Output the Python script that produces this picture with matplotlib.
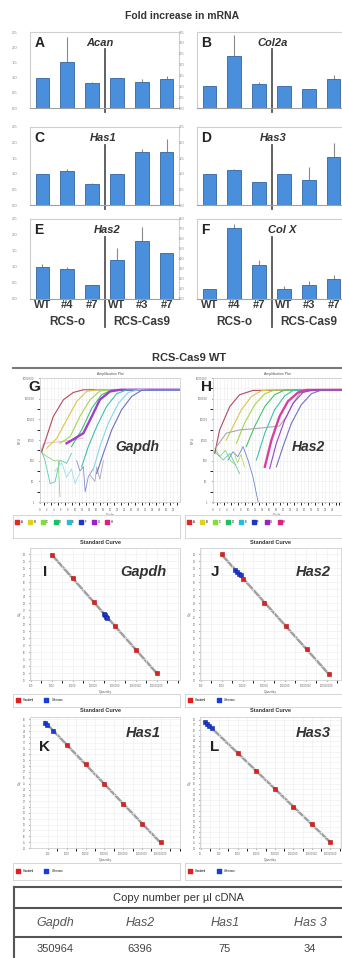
import matplotlib
matplotlib.use('Agg')
import matplotlib.pyplot as plt
import numpy as np

plt.rcParams['font.family'] = ['Liberation Sans', 'DejaVu Sans']

# ---- fold increase bar panels (A-F) ----
bar_labels = ['WT', '#4', '#7', 'WT', '#3', '#7']
group_labels = ['RCS-o', 'RCS-Cas9']

acan = [1.0, 1.52, 0.83, 1.0, 0.84, 0.95]
acan_err = [0.0, 0.83, 0.03, 0.0, 0.11, 0.09]
col2a = [1.0, 2.4, 1.1, 1.0, 0.88, 1.35]
col2a_err = [0.0, 0.95, 0.12, 0.0, 0.0, 0.15]
has1 = [1.0, 1.1, 0.67, 1.0, 1.7, 1.71]
has1_err = [0.0, 0.04, 0.05, 0.0, 0.09, 0.39]
has3 = [1.0, 1.13, 0.75, 1.0, 0.8, 1.53]
has3_err = [0.0, 0.02, 0.0, 0.0, 0.43, 0.47]
has2 = [1.0, 0.93, 0.45, 1.23, 1.8, 1.44]
has2_err = [0.1, 0.07, 0.0, 0.37, 0.45, 0.0]
colx = [1.0, 7.15, 3.37, 1.0, 1.4, 2.0]
colx_err = [0.0, 0.4, 0.5, 0.3, 0.45, 0.45]

# ---- amplification plots (cycle, log10 RFU) ----
amp_g_cyc = [
    [0.5, 1.9, 3.8, 6.7, 9.5, 12.4, 40],
    [1.9, 4.8, 7.6, 10.5, 13.3, 16.2, 40],
    [5.7, 8.6, 11.4, 14.3, 17.1, 20.0, 40],
    [9.0, 11.9, 14.8, 17.6, 20.5, 40],
    [7.6, 10.0, 12.4, 14.8, 17.1, 20.0, 22.9, 40],
    [11.9, 13.8, 16.2, 19.0, 21.9, 24.8, 40],
    [15.2, 17.1, 19.5, 22.4, 25.2, 28.1, 40],
    [16.2, 18.1, 20.5, 23.3, 26.2, 29.0, 31.0, 40],
]
amp_g_log = [
    [2.43, 3.16, 4.14, 4.95, 5.30, 5.43, 5.43],
    [2.60, 3.08, 3.97, 4.87, 5.35, 5.43, 5.43],
    [2.84, 3.16, 4.14, 4.95, 5.37, 5.43, 5.43],
    [2.68, 3.49, 4.54, 5.19, 5.42, 5.43],
    [2.84, 3.08, 3.33, 4.14, 4.95, 5.35, 5.43, 5.43],
    [1.70, 2.68, 3.65, 4.62, 5.24, 5.43, 5.43],
    [1.54, 2.68, 3.81, 4.78, 5.30, 5.43, 5.43],
    [1.38, 2.35, 3.49, 4.46, 5.11, 5.40, 5.43, 5.43],
]
noise_g_cyc = [
    [0, 1.4, 2.9, 4.3, 5.7, 7.6, 9.0],
    [0, 2.0, 4.0, 5.2, 5.7],
    [0, 1.0, 4.8, 9.5, 12.4],
    [10.5, 11.4, 12.4, 12.9, 13.8, 15.2],
    [14.3, 15.7, 16.2, 17.1, 18.1],
    [4.3, 6.2, 7.6, 9.0, 10.0, 11.4],
]
noise_g_log = [
    [2.68, 2.03, 0.89, 0.98, 2.03, 1.87, 2.35],
    [2.43, 2.2, 2.0, 2.03, 0.25],
    [2.35, 2.84, 2.90, 3.0, 3.1],
    [2.0, 1.5, 1.70, 0.49, 1.22, 1.6],
    [1.3, 1.0, 1.70, 1.1, 2.0],
    [1.5, 1.9, 1.2, 1.6, 0.9, 1.4],
]
amp_h_cyc = [
    [0.5, 1.9, 4.8, 7.6, 11.4, 40],
    [3.8, 5.7, 8.1, 11.0, 13.8, 16.7, 40],
    [6.7, 9.0, 11.9, 14.8, 17.6, 40],
    [9.5, 11.9, 14.8, 17.6, 20.5, 40],
    [12.4, 14.8, 17.6, 20.5, 22.9, 40],
    [1.0, 3.8, 7.6, 13.3, 19.0, 21.0, 22.9, 24.8, 27.6, 40],
    [14.8, 16.7, 19.0, 21.4, 24.3, 26.7, 40],
    [16.2, 18.1, 20.5, 22.9, 25.7, 28.6, 40],
    [18.1, 20.0, 22.4, 25.2, 28.1, 31.0, 40],
]
amp_h_log = [
    [2.35, 3.49, 4.62, 5.19, 5.40, 5.43],
    [3.00, 3.65, 4.46, 5.11, 5.38, 5.43, 5.43],
    [2.84, 3.81, 4.70, 5.24, 5.42, 5.43],
    [2.68, 3.65, 4.62, 5.19, 5.42, 5.43],
    [2.03, 3.33, 4.46, 5.14, 5.40, 5.43],
    [2.68, 3.33, 3.49, 3.57, 3.68, 4.14, 4.78, 5.27, 5.42, 5.43],
    [1.70, 3.00, 4.14, 4.87, 5.30, 5.42, 5.43],
    [1.62, 2.84, 3.97, 4.78, 5.30, 5.42, 5.43],
    [1.70, 2.68, 3.81, 4.70, 5.24, 5.42, 5.43],
]
noise_h_cyc = [
    [4.3, 5.7, 7.1, 8.6, 10.0, 11.4, 12.9],
    [0, 2.9, 4.8, 7.6],
    [0.5, 2.0, 3.5, 5.0, 6.5],
    [6.0, 7.0, 8.0, 9.0],
]
noise_h_log = [
    [2.03, 2.43, 2.19, 2.68, 2.03, 1.22, 0.0],
    [2.52, 2.03, 2.35, 1.38],
    [2.6, 2.2, 2.5, 2.0, 1.8],
    [2.4, 1.9, 2.3, 1.7],
]
well_names = ['A', 'B', 'C', 'D', 'E', 'F', 'G', 'H']

# ---- standard curves (log10 quantity, Cq) ----
gapdh_std_q = [3, 4, 5, 6, 7, 8]
gapdh_std_ct = [29.9, 26.6, 23.1, 19.7, 16.3, 13.0]
gapdh_unk_q = [5.49, 5.54, 5.59, 5.65]
gapdh_unk_ct = [21.43, 21.25, 21.05, 20.86]
has2_std_q = [3, 4.03, 5.03, 6.05, 7.05, 8.08]
has2_std_ct = [29.95, 26.43, 23.05, 19.71, 16.38, 12.86]
has2_unk_q = [3.63, 3.72, 3.81, 3.9]
has2_unk_ct = [27.7, 27.45, 27.2, 27.0]
has1_std_q = [3, 4.01, 5.0, 5.99, 7.0, 7.99]
has1_std_ct = [31.67, 28.32, 24.91, 21.56, 18.15, 14.97]
has1_unk_q = [1.85, 1.94, 2.29]
has1_unk_ct = [35.4, 35.1, 34.06]
has3_std_q = [3, 3.99, 5.02, 6.01, 7.0, 7.99]
has3_std_ct = [31.7, 28.4, 25.06, 21.7, 18.47, 15.06]
has3_unk_q = [1.23, 1.35, 1.47, 1.59]
has3_unk_ct = [37.6, 37.2, 36.8, 36.36]

copy_genes = ['Gapdh', 'Has2', 'Has1', 'Has 3']
copy_numbers = [350964, 6396, 75, 34]

W, H = 342, 958
fig = plt.figure(figsize=(W / 100, H / 100), dpi=100)


def px_axes(x0, y0, x1, y1):
    return fig.add_axes([x0 / W, 1 - y1 / H, (x1 - x0) / W, (y1 - y0) / H])


def bar_panel(box, vals, errs, ymax, ystep, letter, gene, gene_x, xlabels=False):
    ax = px_axes(*box)
    x = np.arange(len(vals))
    ax.bar(x, vals, width=0.55, color='#4a8fdc', edgecolor='#35659e', linewidth=0.6, zorder=2)
    ax.errorbar(x, vals, yerr=[np.zeros(len(vals)), errs], fmt='none',
                ecolor='#8a8a8a', elinewidth=0.8, capsize=0, zorder=1)
    ax.set_xlim(-0.5, 5.5)
    ax.set_ylim(0, ymax)
    ticks = np.arange(0, ymax + 0.001, ystep)
    ax.set_yticks(ticks)
    ax.set_yticklabels([f'{t:.1f}' for t in ticks])
    ax.tick_params(axis='y', labelsize=3, length=0, pad=9, labelcolor='#888888')
    for s in ax.spines.values():
        s.set_color('#cfcfcf')
        s.set_linewidth(0.8)
    ax.spines['bottom'].set_color('#a0a0a0')
    tr = ax.get_xaxis_transform()
    bottom = -0.35 if xlabels else -0.05
    ax.plot([2.5, 2.5], [bottom, 0.77], transform=tr, clip_on=False, color='#555555', lw=1.3)
    if xlabels:
        ax.set_xticks(x)
        ax.set_xticklabels(bar_labels, fontsize=8, fontweight='bold', color='#3a3a3a')
        ax.tick_params(axis='x', length=0, pad=1)
        ax.text(1, -0.29, group_labels[0], transform=tr, ha='center', va='center',
                fontsize=8.5, fontweight='bold', color='#3a3a3a')
        ax.text(4, -0.29, group_labels[1], transform=tr, ha='center', va='center',
                fontsize=8.5, fontweight='bold', color='#3a3a3a')
    else:
        ax.set_xticks([])
    ax.text(0.03, 0.86, letter, transform=ax.transAxes, fontsize=10, fontweight='bold',
            va='center', color='#222222')
    ax.text(gene_x, 0.86, gene, transform=ax.transAxes, fontsize=8, fontweight='bold',
            style='italic', ha='center', va='center', color='#333333')
    return ax


fig.text(182 / W, 1 - 16 / H, 'Fold increase in mRNA', ha='center', va='center',
         fontsize=7.5, fontweight='bold', color='#333333')
bar_panel((30, 32, 179, 108), acan, acan_err, 2.5, 0.5, 'A', 'Acan', 0.47)
bar_panel((197, 32, 346, 108), col2a, col2a_err, 3.5, 0.5, 'B', 'Col2a', 0.51)
bar_panel((30, 127, 179, 205), has1, has1_err, 2.5, 0.5, 'C', 'Has1', 0.49)
bar_panel((197, 127, 346, 205), has3, has3_err, 2.5, 0.5, 'D', 'Has3', 0.51)
bar_panel((30, 219, 179, 299), has2, has2_err, 2.5, 0.5, 'E', 'Has2', 0.52, True)
bar_panel((197, 219, 346, 299), colx, colx_err, 8.0, 1.0, 'F', 'Col X', 0.57, True)

# ---- amplification plots ----
amp_colors_g = ['#b5485e', '#d6c84a', '#a6d44c', '#45c070', '#9b3fd0', '#3fbfae', '#86d8ec', '#7070c0']
amp_colors_h = ['#b5485e', '#d6c84a', '#a6d44c', '#45c070', '#3fbfae', '#a8a8a8', '#d8409e', '#9b3fd0', '#7070c0']
noise_colors_g = ['#3fbfae', '#7ccf5a', '#e0a0b8', '#6f78c8', '#9a9aaa', '#86d8ec']
noise_colors_h = ['#5570c8', '#3fbfae', '#7ccf5a', '#a6d44c']
leg_colors = ['#e02828', '#e0d020', '#80e030', '#20c060', '#20c0d8', '#2038c0', '#a020c8', '#e02080']


def amp_panel(box, xmax, cyc, logs, colors, ncyc, nlogs, ncolors, thick, letter, gene, gene_xy):
    ax = px_axes(*box)
    for c, l, col in zip(ncyc, nlogs, ncolors):
        ax.plot(c, l, color=col, lw=0.6, alpha=0.85)
    for i, (c, l, col) in enumerate(zip(cyc, logs, colors)):
        ax.plot(c, l, color=col, lw=1.7 if i == thick else 0.8)
    ax.set_xlim(0, xmax)
    ax.set_ylim(0, 6)
    ax.set_xticks(np.arange(0, xmax - 1.5, 2))
    ax.set_xticks(np.arange(0, xmax, 1), minor=True)
    ax.set_yticks(np.arange(0, 7))
    ax.set_yticks(np.arange(0, 6.01, 0.5), minor=True)
    ax.set_yticklabels([f'{10 ** k:d}' for k in range(7)])
    ax.tick_params(labelsize=2, length=1, colors='#666666', pad=3)
    ax.grid(True, which='both', color='#ececec', lw=0.4)
    for s in ax.spines.values():
        s.set_color('#d0d0d0')
        s.set_linewidth(0.6)
    ax.set_xlabel('Cycle', fontsize=2.5, labelpad=1, color='#666666')
    ax.set_ylabel('RFU', fontsize=2.5, labelpad=1, color='#666666')
    ax.set_title('Amplification Plot', fontsize=2.5, pad=2, color='#555555')
    fig.text((box[0] - 12) / W, 1 - 387 / H, letter, fontsize=11, fontweight='bold',
             ha='left', va='center', color='#222222')
    fig.text(gene_xy[0] / W, 1 - gene_xy[1] / H, gene, fontsize=10, fontweight='bold',
             style='italic', ha='center', va='center', color='#333333')


def amp_legend(box):
    ax = px_axes(*box)
    ax.set_xticks([])
    ax.set_yticks([])
    for s in ax.spines.values():
        s.set_color('#d0d0d0')
        s.set_linewidth(0.6)
    for i, (col, name) in enumerate(zip(leg_colors, well_names)):
        ax.scatter(0.025 + i * 0.077, 0.68, marker='s', s=8, color=col, transform=ax.transAxes)
        ax.text(0.045 + i * 0.077, 0.68, name, fontsize=2, va='center', transform=ax.transAxes)


fig.text(189 / W, 1 - 358 / H, 'RCS-Cas9 WT', ha='center', va='center', fontsize=8,
         fontweight='bold', color='#333333')
fig.add_artist(plt.Line2D([13 / W, 1], [1 - 368 / H, 1 - 368 / H], color='#7a7a7a', lw=1.5))

amp_panel((40, 378, 180, 502), 40, amp_g_cyc, amp_g_log, amp_colors_g, noise_g_cyc, noise_g_log,
          noise_colors_g, 4, 'G', 'Gapdh', (137, 447))
amp_panel((213, 378, 342, 502), 40 * 129 / 140, amp_h_cyc, amp_h_log, amp_colors_h, noise_h_cyc,
          noise_h_log, noise_colors_h, 6, 'H', 'Has2', (308, 447))
amp_legend((13, 515, 180, 538))
amp_legend((185, 515, 353, 538))


# ---- standard curves ----
def std_panel(box, xlim, ylim, sq, sct, uq, uct, letter, letter_y, gene, gene_y, title_y):
    ax = px_axes(*box)
    fit = np.polyfit(sq, sct, 1)
    xs = np.array([min(min(sq), min(uq)), max(sq)])
    ax.plot(xs, np.polyval(fit, xs), color='#a0a0a0', lw=1.8, zorder=1)
    ax.plot(sq, sct, 's', ms=3.5, color='#e02020', mec='#b01010', mew=0.4, zorder=3)
    ax.plot(uq, uct, 's', ms=3.5, color='#1a3cd8', mec='#102090', mew=0.4, zorder=2)
    ax.set_xlim(*xlim)
    ax.set_ylim(*ylim)
    major = np.arange(np.ceil(xlim[0]), xlim[1] - 0.3, 1)
    ax.set_xticks(major)
    ax.set_xticklabels([f'{10 ** int(k):d}' for k in major])
    ax.set_yticks(np.arange(np.ceil(ylim[0]), ylim[1], 1))
    ax.set_xticks(np.arange(np.ceil(xlim[0]), xlim[1], 0.5), minor=True)
    ax.tick_params(labelsize=1.8, length=1, colors='#666666', pad=2)
    ax.grid(True, which='both', color='#ececec', lw=0.4)
    for s in ax.spines.values():
        s.set_color('#d0d0d0')
        s.set_linewidth(0.6)
    ax.set_xlabel('Quantity', fontsize=2.5, labelpad=1, color='#666666')
    ax.set_ylabel('Cq', fontsize=2.5, labelpad=1, color='#666666')
    cx = box[0] + 70
    fig.text(cx / W, 1 - title_y / H, 'Standard Curve', ha='center', va='center',
             fontsize=4, fontweight='bold', color='#333333')
    fig.text((box[0] + 15) / W, 1 - letter_y / H, letter, fontsize=11, fontweight='bold',
             ha='center', va='center', color='#222222')
    fig.text((box[0] + 113) / W, 1 - gene_y / H, gene, fontsize=10.5, fontweight='bold',
             style='italic', ha='center', va='center', color='#333333')


def std_legend(box):
    ax = px_axes(*box)
    ax.set_xticks([])
    ax.set_yticks([])
    for s in ax.spines.values():
        s.set_color('#d0d0d0')
        s.set_linewidth(0.6)
    ax.scatter(0.03, 0.55, marker='s', s=10, color='#e02020', transform=ax.transAxes)
    ax.text(0.06, 0.55, 'Standard', fontsize=2, va='center', transform=ax.transAxes)
    ax.scatter(0.2, 0.55, marker='s', s=10, color='#1a3cd8', transform=ax.transAxes)
    ax.text(0.23, 0.55, 'Unknown', fontsize=2, va='center', transform=ax.transAxes)


std_panel((30, 548, 180, 680), (1.97, 9.1), (12, 30.86), gapdh_std_q, gapdh_std_ct,
          gapdh_unk_q, gapdh_unk_ct, 'I', 572, 'Gapdh', 572, 543)
std_panel((200, 548, 341, 680), (1.97, 8.67), (12, 30.86), has2_std_q, has2_std_ct,
          has2_unk_q, has2_unk_ct, 'J', 572, 'Has2', 572, 543)
std_panel((30, 717, 180, 848), (1.05, 9.02), (14, 36.4), has1_std_q, has1_std_ct,
          has1_unk_q, has1_unk_ct, 'K', 747, 'Has1', 733, 711)
std_panel((200, 717, 341, 848), (0.96, 8.58), (14, 38.47), has3_std_q, has3_std_ct,
          has3_unk_q, has3_unk_ct, 'L', 747, 'Has3', 733, 711)
std_legend((13, 694, 180, 707))
std_legend((185, 694, 353, 707))
std_legend((13, 863, 180, 880))
std_legend((185, 863, 353, 880))

# ---- copy number table ----
tab = fig.add_axes([0, 0, 1, 1])
tab.set_xlim(0, W)
tab.set_ylim(H, 0)
tab.axis('off')
tab.patch.set_alpha(0)
line_kw = dict(color='#555555', lw=1.5)
tab.plot([14, W + 5], [887, 887], **line_kw)
tab.plot([14, W + 5], [908, 908], **line_kw)
tab.plot([14, W + 5], [937, 937], **line_kw)
tab.plot([14, 14], [887, H + 5], **line_kw)
tab.text(178, 898, 'Copy number per µl cDNA', ha='center', va='center', fontsize=8, color='#333333')
col_x = [55, 140, 225, 310]
for cx, g, n in zip(col_x, copy_genes, copy_numbers):
    tab.text(cx, 923, g, ha='center', va='center', fontsize=9, style='italic', color='#555555')
    tab.text(cx, 949, f'{n}', ha='center', va='center', fontsize=8, color='#444444')

fig.savefig('out.png', dpi=100)
